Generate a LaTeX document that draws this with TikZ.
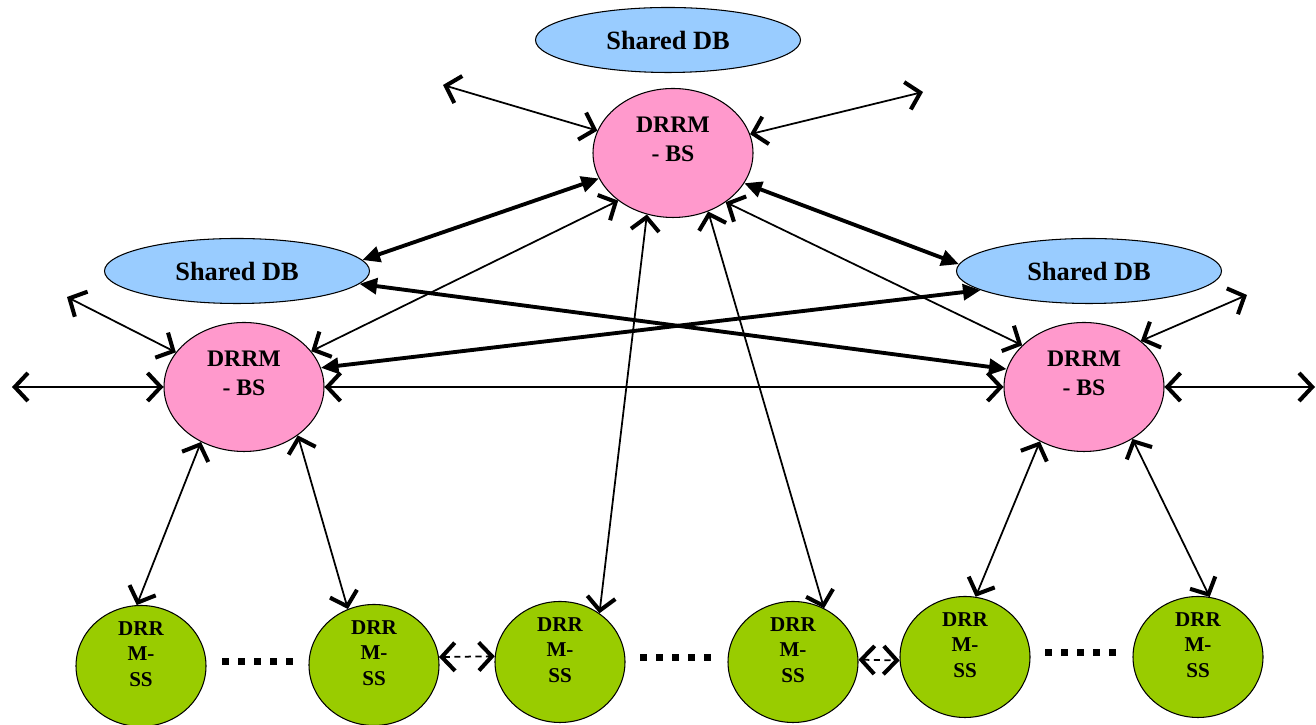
\documentclass[tikz,border=0pt]{standalone}
\usepackage{fontspec}
\setmainfont{Liberation Serif}
\usetikzlibrary{arrows.meta,shapes.geometric}
\definecolor{dbblue}{HTML}{99CCFF}
\definecolor{bspink}{HTML}{FF99CC}
\definecolor{ssgreen}{HTML}{99CC00}
\tikzset{
    openend/.tip={Straight Barb[length=7.5pt,width=16pt,line width=2.3pt]},
    fillend/.tip={Triangle[length=10pt,width=9pt]}
}
\begin{document}
\begin{tikzpicture}[
    db/.style={ellipse, draw, line width=0.6pt, fill=dbblue, inner sep=0pt,
        minimum width=5.3cm, minimum height=1.3cm,
        font=\fontsize{15}{18}\selectfont\bfseries},
    bs/.style={ellipse, draw, line width=0.6pt, fill=bspink, inner sep=0pt,
        minimum width=3.2cm, minimum height=2.58cm, align=center,
        text height=10pt, text depth=0pt,
        font=\fontsize{13.5}{16.5}\selectfont\bfseries},
    ss/.style={ellipse, draw, line width=0.6pt, fill=ssgreen, inner sep=0pt,
        minimum width=2.6cm, minimum height=2.42cm, align=center,
        text height=23pt, text depth=0pt,
        font=\fontsize{12}{14.5}\selectfont\bfseries},
    link/.style={openend-openend, line width=1pt},
    midlink/.style={openend-openend, line width=1.6pt},
    biglink/.style={fillend-fillend, line width=2.2pt},
    dashlink/.style={openend-openend, line width=1pt, dash pattern=on 3.5pt off 2.5pt}
]
    \useasboundingbox (0,0) rectangle (26.32,14.5);

    \node[db] (DB0) at (13.36,13.70) {Shared DB};
    \node[bs] (BS0) at (13.46,11.44) {DRRM\\- BS};
    \node[db] (DB1) at (4.74,9.08) {Shared DB};
    \node[bs] (BS1) at (4.88,6.76) {DRRM\\- BS};
    \node[db] (DB2) at (21.78,9.08) {Shared DB};
    \node[bs] (BS2) at (21.68,6.76) {DRRM\\- BS};

    \node[ss] (SS1) at (2.82,1.18) {DRR\\M-\\SS};
    \node[ss] (SS2) at (7.48,1.20) {DRR\\M-\\SS};
    \node[ss] (SS3) at (11.20,1.26) {DRR\\M-\\SS};
    \node[ss] (SS4) at (15.86,1.26) {DRR\\M-\\SS};
    \node[ss] (SS5) at (19.30,1.36) {DRR\\M-\\SS};
    \node[ss] (SS6) at (23.96,1.36) {DRR\\M-\\SS};

    \coordinate (c0a) at (8.86,12.80);
    \coordinate (c0b) at (18.46,12.66);
    \coordinate (c1a) at (1.34,8.56);
    \coordinate (c1b) at (0.24,6.76);
    \coordinate (c2a) at (24.94,8.60);
    \coordinate (c2b) at (26.30,6.76);

    \draw[link] (c0a) -- (BS0);
    \draw[link] (c0b) -- (BS0);
    \draw[link] (BS0.221) -- (BS1.28);
    \draw[link] (BS0.317) -- (BS2.146);
    \draw[link] (BS0.247) -- (SS3.51);
    \draw[link] (BS0.301) -- (SS4.60);

    \draw[biglink] (BS0.199) -- (DB1.5);
    \draw[biglink] (BS0.337) -- (DB2.177);
    \draw[biglink] (DB1.354) -- (BS2.167);
    \draw[biglink] (DB2.190) -- (BS1.14);
    \draw[midlink] (BS1.east) -- (BS2.west);

    \draw[link] (c1a) -- (BS1);
    \draw[link] (c1b) -- (BS1);
    \draw[link] (BS1.232) -- (SS1.94);
    \draw[link] (BS1.318) -- (SS2.115);

    \draw[link] (c2a) -- (BS2.39);
    \draw[link] (c2b) -- (BS2);
    \draw[link] (BS2.231) -- (SS5.80);
    \draw[link] (BS2.313) -- (SS6.79);

    \draw[dashlink] (SS2.7) -- (SS3.175);
    \draw[dashlink] (SS4.2) -- (SS5.183);

    \foreach \x/\y in {4.44/1.19, 12.80/1.27, 20.90/1.37}
        \foreach \i in {0,...,4}
            \fill (\x+\i*0.32,\y) rectangle ++(0.14,0.14);
\end{tikzpicture}
\end{document}
